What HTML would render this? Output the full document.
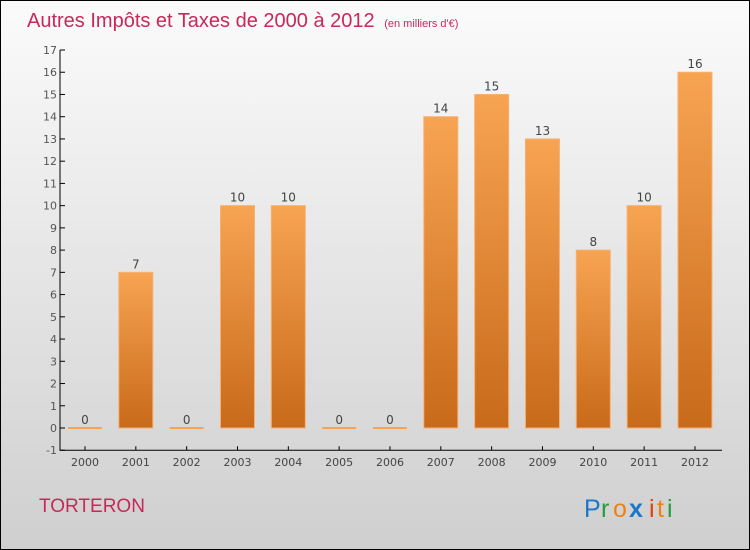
<!DOCTYPE html>
<html><head><meta charset="utf-8"><style>
body{margin:0}
#c{position:relative;width:748px;height:548px;border:1px solid #000;background:linear-gradient(#fbfbfb,#cfcfcf);font-family:"DejaVu Sans","Liberation Sans",sans-serif;overflow:hidden}
</style></head><body>
<div id="c">
<svg width="748" height="548" style="position:absolute;left:0;top:0">
<defs><linearGradient id="bg" x1="0" y1="0" x2="0" y2="1"><stop offset="0" stop-color="#f7a452"/><stop offset="1" stop-color="#c86a1a"/></linearGradient></defs>
<text x="26" y="26" font-size="20" fill="#c8285a" font-family="Liberation Sans">Autres Impôts et Taxes de 2000 à 2012 <tspan font-size="11" dx="4">(en milliers d'€)</tspan></text>
<g id="g"></g>
<text x="38" y="511" font-size="19" fill="#c8285a" font-family="Liberation Sans">TORTERON</text>
<g font-size="25" font-family="Liberation Sans">
<text x="583" y="516" fill="#1a78c8">P</text><text x="600" y="516" fill="#2a9a3a">r</text><text x="612" y="516" fill="#f08010">o</text><text x="628" y="516" fill="#1a78c8" font-weight="bold">x</text><text x="648" y="516" fill="#e04010">i</text><text x="656" y="516" fill="#f08010">t</text><text x="666" y="516" fill="#2a9a3a">i</text>
</g>
</svg></div>
<script>
const years=["2000","2001","2002","2003","2004","2005","2006","2007","2008","2009","2010","2011","2012"];
const values=[0,7,0,10,10,0,0,14,15,13,8,10,16];
const ticks=[-1,0,1,2,3,4,5,6,7,8,9,10,11,12,13,14,15,16,17];
const NS="http://www.w3.org/2000/svg",g=document.getElementById('g');
const y=v=>427-(v)*(427-49)/17;
const x=i=>84+i*50.83;
function mk(t,a,txt){const e=document.createElementNS(NS,t);for(const k in a)e.setAttribute(k,a[k]);if(txt!==undefined)e.textContent=txt;g.appendChild(e);return e;}
let ax=mk('path',{d:`M59 ${y(17)}V${y(-1)}H721`,stroke:'#000',fill:'none'});


ticks.forEach(t=>{
 let l=mk('line',{x1:59,x2:64,y1:y(t),y2:y(t),stroke:'#000'});
 
 
 let tx=mk('text',{x:56,y:y(t)+4,'text-anchor':'end','font-size':11,fill:'#555'},t);
 
 
});
years.forEach((yr,i)=>{
 const v=values[i],cx=x(i);
 let l=mk('line',{x1:cx,x2:cx,y1:y(-1)-4,y2:y(-1),stroke:'#000'});
 
 
 let tx=mk('text',{x:cx,y:y(-1)+16,'text-anchor':'middle','font-size':11,fill:'#444'},yr);
 
 
 let b;
 if(v===0){b=mk('rect',{x:cx-17,y:y(0)-1,width:34,height:2,fill:'#f7a452'});}
 else b=mk('rect',{x:cx-17,y:y(v),width:34,height:y(0)-y(v),fill:'url(#bg)',stroke:'#f8b070','stroke-width':1});
 
 
 let vl=mk('text',{x:cx,y:y(v)-4,'text-anchor':'middle','font-size':12,fill:'#444'},v);
 
 
});
</script>
</body></html>
